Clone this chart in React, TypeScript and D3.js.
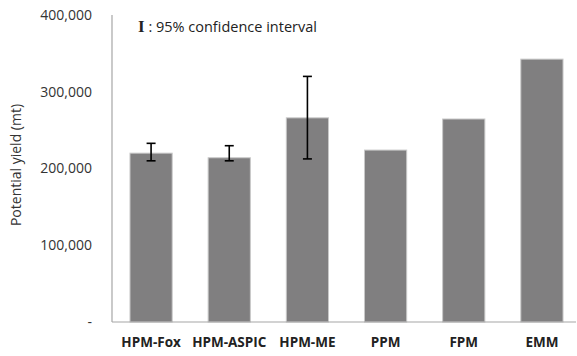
import React from "react";
import * as d3 from "d3";

const categories = ["HPM-Fox", "HPM-ASPIC", "HPM-ME", "PPM", "FPM", "EMM"];
const values = [220000, 214000, 266000, 224000, 264500, 342500];
const ciLow: (number | null)[] = [210000, 210000, 212500, null, null, null];
const ciHigh: (number | null)[] = [232800, 229700, 320000, null, null, null];
const yTicks = [0, 100000, 200000, 300000, 400000];

const W = 577;
const H = 356;
const left = 112;
const right = 581;
const top = 15;
const bottom = 322;
const font = "'Open Sans', sans-serif";

export default function App() {
  const x = d3.scaleBand<string>().domain(categories).range([left, right]).paddingInner(0.46).paddingOuter(0.23);
  const y = d3.scaleLinear().domain([0, 400000]).range([bottom, top]);
  const fmt = d3.format(",");
  return (
    <svg width={W} height={H} style={{ position: "absolute", left: 0, top: 0, background: "#fff" }}>
      {categories.map((c, i) => (
        <rect key={c} x={x(c)!} y={y(values[i])} width={x.bandwidth()} height={bottom - y(values[i])}
          fill="#807f80" stroke="#c8c8c8" strokeWidth={1} />
      ))}
      <line x1={left} x2={left} y1={top} y2={bottom} stroke="#a6a6a6" strokeWidth={1.2} />
      <line x1={left} x2={576} y1={bottom} y2={bottom} stroke="#a6a6a6" strokeWidth={1.2} />
      {categories.map((c, i) => {
        const lo = ciLow[i], hi = ciHigh[i];
        if (lo == null || hi == null) return null;
        const cx = x(c)! + x.bandwidth() / 2;
        return (
          <g key={c + "e"} stroke="#000" strokeWidth={1.6}>
            <line x1={cx} x2={cx} y1={y(hi)} y2={y(lo)} />
            <line x1={cx - 4.5} x2={cx + 4.5} y1={y(hi)} y2={y(hi)} />
            <line x1={cx - 4.5} x2={cx + 4.5} y1={y(lo)} y2={y(lo)} />
          </g>
        );
      })}
      {yTicks.map((t) => (
        <text key={t} x={92} y={y(t)} dy="0.35em" textAnchor="end" fontFamily={font} fontSize={14} fill="#333">
          {t === 0 ? "-" : fmt(t)}
        </text>
      ))}
      <text transform={`translate(21,165) rotate(-90)`} textAnchor="middle"
        fontFamily={font} fontSize={14} fill="#333">Potential yield (mt)</text>
      {categories.map((c) => (
        <text key={c + "l"} x={x(c)! + x.bandwidth() / 2} y={347} textAnchor="middle" fontFamily={font}
          fontSize={13.5} fontWeight="bold" fill="#222">{c}</text>
      ))}
      <text x={138} y={32} fontFamily={font} fontSize={14.5} fill="#222">
        <tspan fontFamily="'Liberation Serif', serif" fontWeight="bold" fontSize={17}>I</tspan>
        <tspan> : 95% confidence interval</tspan>
      </text>
    </svg>
  );
}
